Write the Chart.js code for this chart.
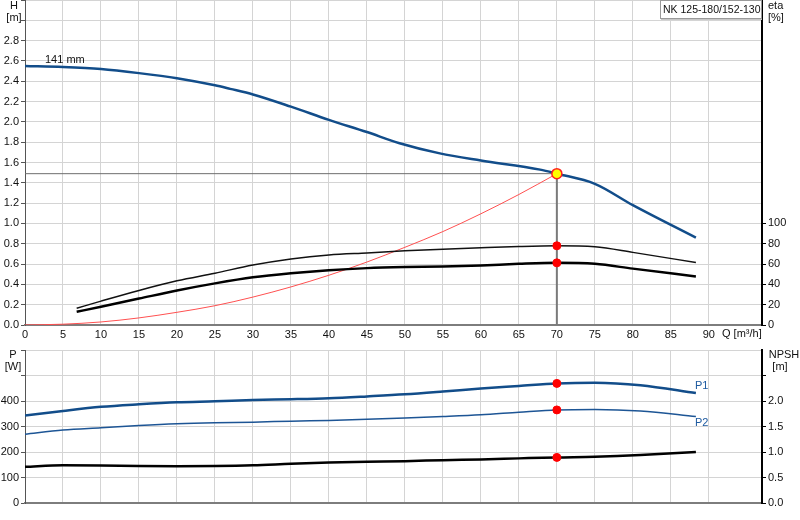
<!DOCTYPE html>
<html>
<head>
<meta charset="utf-8">
<script src="https://cdn.jsdelivr.net/npm/chart.js@4.4.1/dist/chart.umd.min.js"></script>
<style>
body{margin:0;background:#fff;}
canvas{display:block;}
</style>
</head>
<body>
<canvas id="topChart" width="800" height="340"></canvas>
<canvas id="bottomChart" width="800" height="180"></canvas>
<script>
// pump curve (141 mm impeller)
var qHead = [0, 5, 10, 15, 20, 25, 27, 30, 35, 40, 45, 49.3, 54.6, 60, 67.8, 70, 75, 80, 88.3];
var head = [2.55, 2.54, 2.52, 2.48, 2.43, 2.36, 2.325, 2.27, 2.15, 2.02, 1.90, 1.79, 1.69, 1.62, 1.53, 1.49, 1.39, 1.18, 0.86];

// efficiencies [%]
var qEta = [6.8, 10, 15, 20, 25, 30, 35, 40, 45, 50, 55, 60, 65, 70, 75, 80, 88.3];
var etaPump = [16.5, 23.5, 34, 43.5, 51, 59, 65, 69, 71, 73, 74.5, 76, 77.3, 78, 77, 71.5, 61.5];
var etaTotal = [13, 18, 26, 34, 41, 47, 51, 54, 56, 57, 57.5, 58.6, 60.2, 61.2, 60.2, 55.5, 47.8];

// system curve
var qSys = [0, 5, 10, 15, 20, 25, 30, 35, 40, 45, 50, 55, 60, 65, 70];
var hSys = [0, 0.008, 0.03, 0.07, 0.125, 0.19, 0.275, 0.375, 0.49, 0.62, 0.765, 0.92, 1.095, 1.285, 1.49];

// power and NPSH
var qPow = [0, 5, 10, 15, 20, 25, 30, 35, 40, 45, 50, 55, 60, 65, 70, 75, 81, 88.3];
var powerP1 = [343, 361, 377, 387, 395, 399, 404, 407, 411, 418, 426, 437, 449, 459, 469, 472, 462, 431];
var powerP2 = [270, 286, 295, 304, 311, 315, 317, 321, 324, 328, 333, 339, 346, 356, 365, 367, 361, 339];
var npsh = [0.71, 0.74, 0.735, 0.725, 0.72, 0.725, 0.74, 0.77, 0.795, 0.81, 0.82, 0.84, 0.855, 0.875, 0.894, 0.907, 0.94, 1.0];

// duty point
var dutyQ = 70;
var dutyH = 1.49;
var dutyEta = [78, 61.2];
var dutyPow = [469, 365];
var dutyNpsh = 0.894;

var qTicks = [0, 5, 10, 15, 20, 25, 30, 35, 40, 45, 50, 55, 60, 65, 70, 75, 80, 85, 90];

function pts(xs, ys) {
  var out = [];
  for (var i = 0; i < xs.length; i++) out.push({x: xs[i], y: ys[i]});
  return out;
}

function fitW(w) {
  return function(s) { s.width = w; s.paddingTop = 0; s.paddingBottom = 0; s.paddingLeft = 0; s.paddingRight = 0; };
}
function fitH(h) {
  return function(s) { s.height = h; s.paddingTop = 0; s.paddingBottom = 0; s.paddingLeft = 0; s.paddingRight = 0; };
}

Chart.defaults.font.family = '"Liberation Sans", Arial, sans-serif';
Chart.defaults.font.size = 11;
Chart.defaults.color = '#111';

var gridCol = '#d4d4d4';
var blue = '#124d8a';

function textPlugin(items, box) {
  return {
    id: 'notes',
    afterDraw: function(chart) {
      var ctx = chart.ctx;
      ctx.save();
      if (box) {
        ctx.fillStyle = '#fff';
        ctx.fillRect(box.x, box.y, box.w, box.h);
        ctx.strokeStyle = '#9a9a9a';
        ctx.lineWidth = 1;
        ctx.strokeRect(box.x + 0.5, box.y + 0.5, box.w - 1, box.h - 1);
        ctx.strokeStyle = '#c8c8c8';
        ctx.beginPath();
        ctx.moveTo(box.x + 1, box.y + box.h + 0.5);
        ctx.lineTo(box.x + box.w, box.y + box.h + 0.5);
        ctx.stroke();
        ctx.fillStyle = '#111';
        ctx.font = '10.5px "Liberation Sans", Arial, sans-serif';
        ctx.textAlign = 'left';
        ctx.textBaseline = 'middle';
        ctx.fillText(box.text, box.x + 3, box.y + box.h / 2 + 0.5);
      }
      items.forEach(function(t) {
        ctx.fillStyle = t.color || '#111';
        ctx.font = (t.size || 11) + 'px "Liberation Sans", Arial, sans-serif';
        ctx.textAlign = t.align || 'left';
        ctx.textBaseline = 'middle';
        ctx.fillText(t.text, t.x, t.y);
      });
      ctx.restore();
    }
  };
}

var topChart = new Chart(document.getElementById('topChart'), {
  type: 'line',
  data: {
    datasets: [
      {data: [{x: dutyQ, y: dutyH}], showLine: false, pointRadius: 5, pointBackgroundColor: '#ffff00',
       pointBorderColor: '#ff2020', pointBorderWidth: 1.5, yAxisID: 'y'},
      {data: [{x: dutyQ, y: dutyEta[0]}, {x: dutyQ, y: dutyEta[1]}], showLine: false, pointRadius: 4,
       pointBackgroundColor: '#ff0000', pointBorderColor: '#ff0000', yAxisID: 'y2'},
      {data: pts(qHead, head), borderColor: blue, borderWidth: 2.5, pointRadius: 0, cubicInterpolationMode: 'monotone', yAxisID: 'y'},
      {data: pts(qEta, etaPump), borderColor: '#111', borderWidth: 1.5, pointRadius: 0, cubicInterpolationMode: 'monotone', yAxisID: 'y2'},
      {data: pts(qEta, etaTotal), borderColor: '#000', borderWidth: 2.5, pointRadius: 0, cubicInterpolationMode: 'monotone', yAxisID: 'y2'},
      {data: pts(qSys, hSys), borderColor: '#ff5050', borderWidth: 1, pointRadius: 0, cubicInterpolationMode: 'monotone', yAxisID: 'y'},
      {data: [{x: 0, y: dutyH}, {x: dutyQ, y: dutyH}], borderColor: '#6e6e6e', borderWidth: 1, pointRadius: 0, yAxisID: 'y'},
      {data: [{x: dutyQ, y: dutyH}, {x: dutyQ, y: 0}], borderColor: '#7a7a7a', borderWidth: 2, pointRadius: 0, yAxisID: 'y'}
    ]
  },
  options: {
    responsive: false,
    animation: false,
    devicePixelRatio: 1,
    layout: {padding: 0, autoPadding: false},
    plugins: {legend: {display: false}, tooltip: {enabled: false}},
    scales: {
      x: {
        type: 'linear', min: 0, max: 97,
        afterFit: fitH(15),
        afterBuildTicks: function(s) { s.ticks = qTicks.map(function(v) { return {value: v}; }); },
        ticks: {autoSkip: false, maxRotation: 0, padding: 3, color: '#111'},
        grid: {color: gridCol, drawTicks: false},
        border: {color: '#7d7d7d', width: 2}
      },
      y: {
        type: 'linear', position: 'left', min: 0, max: 3.2,
        afterFit: fitW(25),
        ticks: {stepSize: 0.2, padding: 2, autoSkip: false,
          callback: function(v) { return v > 2.85 ? '' : v.toFixed(1); }},
        grid: {color: gridCol, tickLength: 4, tickColor: '#555'},
        border: {color: '#555', width: 1}
      },
      y2: {
        type: 'linear', position: 'right', min: 0, max: 320,
        afterFit: fitW(38),
        ticks: {stepSize: 20, padding: 2, autoSkip: false,
          callback: function(v) { return v > 100 ? '' : String(v); }},
        grid: {drawOnChartArea: false, tickLength: 4,
          tickColor: function(c) { return c.tick && c.tick.value > 100 ? 'rgba(0,0,0,0)' : '#000'; }},
        border: {color: '#000', width: 2}
      }
    }
  },
  plugins: [textPlugin([
    {text: 'H', x: 14, y: 6, align: 'center'},
    {text: '[m]', x: 14, y: 18, align: 'center'},
    {text: 'eta', x: 768, y: 6},
    {text: '[%]', x: 768, y: 18},
    {text: '141 mm', x: 45, y: 60},
    {text: 'Q [m\u00b3/h]', x: 722, y: 334}
  ], {x: 660, y: 0, w: 102, h: 19, text: 'NK 125-180/152-130'})]
});

var bottomChart = new Chart(document.getElementById('bottomChart'), {
  type: 'line',
  data: {
    datasets: [
      {data: [{x: dutyQ, y: dutyPow[0]}, {x: dutyQ, y: dutyPow[1]}], showLine: false, pointRadius: 4,
       pointBackgroundColor: '#ff0000', pointBorderColor: '#ff0000', yAxisID: 'y'},
      {data: [{x: dutyQ, y: dutyNpsh}], showLine: false, pointRadius: 4,
       pointBackgroundColor: '#ff0000', pointBorderColor: '#ff0000', yAxisID: 'y2'},
      {data: pts(qPow, powerP1), borderColor: blue, borderWidth: 2.5, pointRadius: 0, cubicInterpolationMode: 'monotone', yAxisID: 'y'},
      {data: pts(qPow, powerP2), borderColor: '#1d5595', borderWidth: 1.5, pointRadius: 0, cubicInterpolationMode: 'monotone', yAxisID: 'y'},
      {data: pts(qPow, npsh), borderColor: '#000', borderWidth: 2.5, pointRadius: 0, cubicInterpolationMode: 'monotone', yAxisID: 'y2'}
    ]
  },
  options: {
    responsive: false,
    animation: false,
    devicePixelRatio: 1,
    layout: {padding: {top: 10, left: 0, right: 0, bottom: 0}, autoPadding: false},
    plugins: {legend: {display: false}, tooltip: {enabled: false}},
    scales: {
      x: {
        type: 'linear', min: 0, max: 97,
        afterFit: fitH(17),
        afterBuildTicks: function(s) { s.ticks = qTicks.map(function(v) { return {value: v}; }); },
        ticks: {display: false},
        grid: {color: gridCol, drawTicks: false},
        border: {color: '#7d7d7d', width: 2}
      },
      y: {
        type: 'linear', position: 'left', min: 0, max: 600,
        afterFit: fitW(25),
        ticks: {stepSize: 100, padding: 2, autoSkip: false,
          callback: function(v) { return v > 450 ? '' : String(v); }},
        grid: {color: gridCol, tickLength: 4, tickColor: '#555'},
        border: {color: '#555', width: 1}
      },
      y2: {
        type: 'linear', position: 'right', min: 0, max: 3,
        afterFit: fitW(38),
        ticks: {stepSize: 0.5, padding: 2, autoSkip: false,
          callback: function(v) { return v > 2.2 ? '' : v.toFixed(1); }},
        grid: {drawOnChartArea: false, tickLength: 4,
          tickColor: function(c) { return c.tick && c.tick.value > 2.7 ? 'rgba(0,0,0,0)' : '#000'; }},
        border: {color: '#000', width: 2}
      }
    }
  },
  plugins: [textPlugin([
    {text: 'P', x: 13, y: 15, align: 'center'},
    {text: '[W]', x: 13, y: 27, align: 'center'},
    {text: 'NPSH', x: 784, y: 15, align: 'center'},
    {text: '[m]', x: 780, y: 27, align: 'center'},
    {text: 'P1', x: 695, y: 46, color: '#1e5aa0'},
    {text: 'P2', x: 695, y: 83, color: '#1e5aa0'}
  ])]
});
</script>
</body>
</html>
